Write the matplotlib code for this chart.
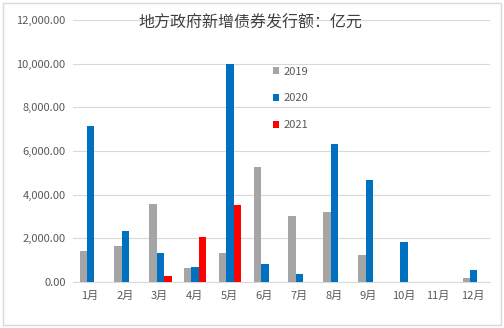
import numpy as np
import matplotlib
matplotlib.use('Agg')
import matplotlib.pyplot as plt
from matplotlib.ticker import FuncFormatter

plt.rcParams['font.family'] = ['Noto Sans CJK SC', 'DejaVu Sans']

# 月度新增债券发行额（亿元）
months = ['1月', '2月', '3月', '4月', '5月', '6月', '7月', '8月', '9月', '10月', '11月', '12月']
v2019 = [1420, 1660, 3570, 630, 1310, 5270, 3010, 3190, 1250, 0, 0, 200]
v2020 = [7140, 2345, 1340, 690, 10000, 820, 370, 6320, 4680, 1830, 0, 550]
v2021 = [0, 0, 275, 2070, 3520, 0, 0, 0, 0, 0, 0, 0]
years = ['2019', '2020', '2021']
colors = ['#A5A5A5', '#0070C0', '#FF0000']

fig = plt.figure(figsize=(5.04, 3.28), dpi=100)
ax = fig.add_axes([0.144, 0.140, 0.829, 0.799])

x = np.arange(len(months))
w = 0.215
for i, (vals, yr, c) in enumerate(zip([v2019, v2020, v2021], years, colors)):
    ax.bar(x + (i - 0.9) * w, vals, width=w, color=c, label=yr, zorder=3)

ax.set_xlim(-0.5, len(months) - 0.5)
ax.set_ylim(0, 12000)
ax.set_yticks(np.arange(0, 12001, 2000))
ax.yaxis.set_major_formatter(FuncFormatter(lambda v, p: f'{v:,.2f}'))
ax.set_xticks(x)
ax.set_xticklabels(months)
ax.tick_params(axis='both', length=0, labelsize=8, colors='#595959')
ax.tick_params(axis='x', pad=6)
ax.tick_params(axis='y', pad=5)
ax.grid(axis='y', color='#D9D9D9', linewidth=0.8, zorder=0)
for s in ['top', 'right', 'left']:
    ax.spines[s].set_visible(False)
ax.spines['bottom'].set_color('#D9D9D9')

fig.text(0.497, 0.93, '地方政府新增债券发行额：亿元', ha='center', va='center',
         fontsize=11.5, color='#404040')

leg = ax.legend(loc='upper left', bbox_to_anchor=(0.455, 0.86), frameon=False,
                fontsize=8, handlelength=0.6, handleheight=0.6, handletextpad=0.4,
                labelspacing=1.5)
for t in leg.get_texts():
    t.set_color('#595959')

# 外框
fig.add_artist(plt.Rectangle((0.006, 0.01), 0.988, 0.98, transform=fig.transFigure,
                             fill=False, edgecolor='#D9D9D9', linewidth=1))

fig.savefig('out.png', dpi=100)
